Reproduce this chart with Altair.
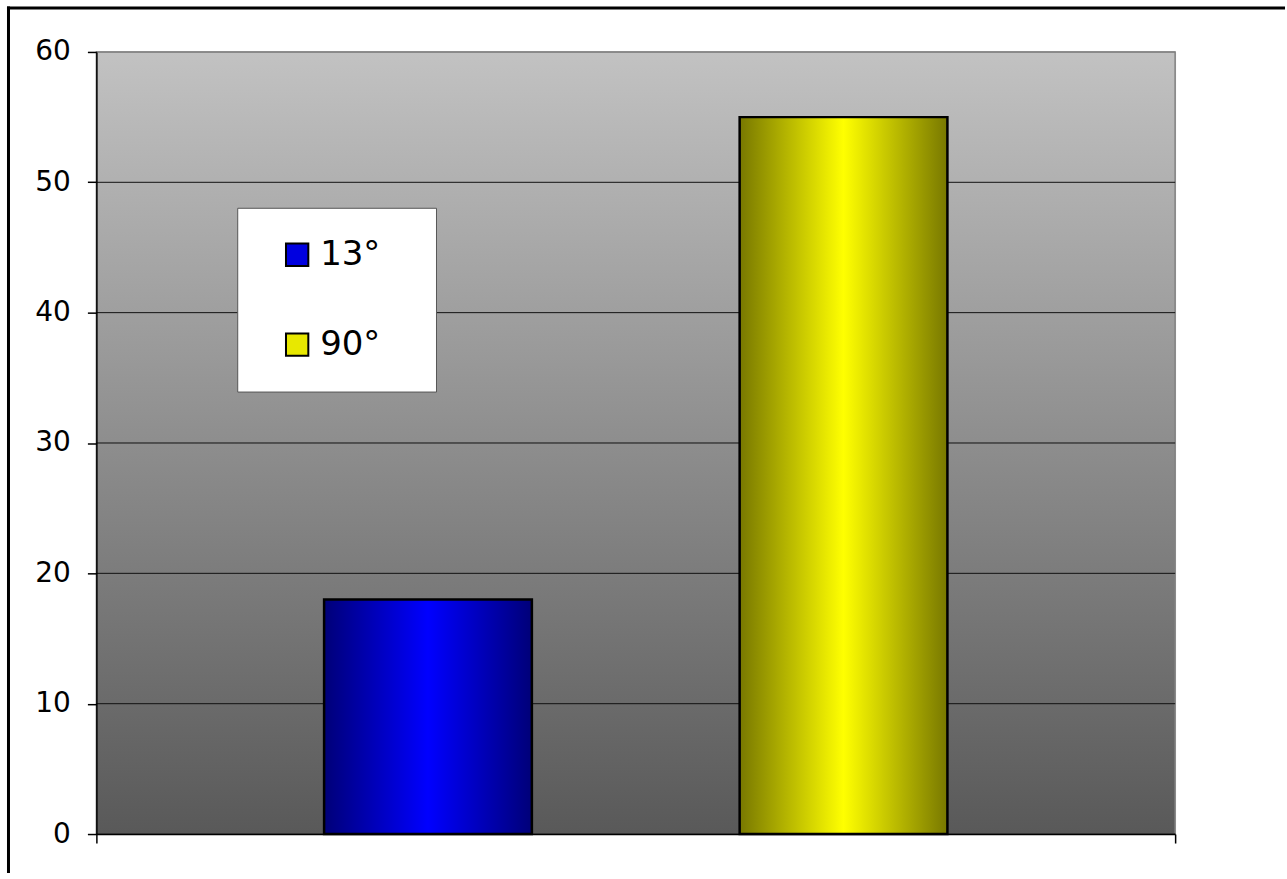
import altair as alt
import pandas as pd

# ---- data ----
category = ["Série"]
series = ["13°", "90°"]
values = [18, 55]
y_ticks = [0, 10, 20, 30, 40, 50, 60]

df = pd.DataFrame({"cat": [category[0]] * len(series), "series": series, "value": values})
grid_df = pd.DataFrame({"tick": y_ticks})
one = pd.DataFrame({"k": [0]})


def hgrad(edge, mid):
    return {
        "gradient": "linear", "x1": 0, "y1": 0, "x2": 1, "y2": 0,
        "stops": [
            {"offset": 0, "color": edge},
            {"offset": 0.5, "color": mid},
            {"offset": 1, "color": edge},
        ],
    }


blue_g = hgrad("#000078", "#0000ff")
yellow_g = hgrad("#787800", "#ffff00")

view_grad = {
    "gradient": "linear", "x1": 0, "y1": 0, "x2": 0, "y2": 1,
    "stops": [{"offset": 0, "color": "#c2c2c2"}, {"offset": 1, "color": "#595959"}],
}

yscale = alt.Scale(domain=[0, 60], nice=False)
yaxis = alt.Axis(values=y_ticks, labelFontSize=28, labelFont="DejaVu Sans",
                 labelColor="black", tickSize=9, tickColor="black", tickWidth=1.5,
                 labelPadding=17, domainColor="black", domainWidth=1.5,
                 grid=False, zindex=1, title=None)
xaxis = alt.Axis(labels=False, tickBand="extent", tickSize=9, tickColor="black",
                 tickWidth=1.5, domainColor="black", domainWidth=1.5, grid=False,
                 zindex=1, title=None)
xenc = alt.X("cat:N", scale=alt.Scale(paddingInner=0, paddingOuter=0), axis=xaxis)
xoff = alt.XOffset("series:N", scale=alt.Scale(paddingInner=0.5, paddingOuter=0.548))

background = alt.Chart(one).mark_rect(fill=view_grad, stroke="#808080", strokeWidth=1.5).encode(
    x=alt.value(0), x2=alt.value("width"),
    y=alt.datum(60, scale=yscale, axis=yaxis), y2=alt.datum(0),
)

grid = alt.Chart(grid_df).mark_rule(strokeWidth=1).encode(
    x=alt.value(0), x2=alt.value("width"),
    y=alt.Y("tick:Q", scale=yscale, axis=yaxis),
    color=alt.condition(alt.datum.tick == 60, alt.value("#808080"), alt.value("#111111")),
)

bars = alt.Chart(df).mark_bar(stroke="black", strokeWidth=2.5, opacity=1).encode(
    x=xenc, xOffset=xoff,
    y=alt.Y("value:Q", scale=yscale, axis=yaxis),
    fill=alt.condition(alt.datum.series == "13°", alt.value(blue_g), alt.value(yellow_g)),
)

legend = alt.Legend(
    orient="none", legendX=141, legendY=156, title=None,
    fillColor="white", strokeColor="#555555", padding=30,
    symbolType="square", symbolSize=500, symbolStrokeColor="black", symbolStrokeWidth=2,
    symbolOffset=13, labelOffset=6, symbolOpacity=1,
    labelFontSize=34, labelFont="DejaVu Sans", labelColor="black",
    rowPadding=56, labelExpr="datum.label + '\u2800'",
)

legend_layer = alt.Chart(df).mark_point(opacity=0, filled=True, shape="square").encode(
    x=xenc, xOffset=xoff,
    y=alt.Y("value:Q", scale=yscale, axis=yaxis),
    color=alt.Color("series:N", scale=alt.Scale(domain=series, range=["#0000e0", "#e8e800"]),
                    legend=legend),
)

left_line = alt.Chart(one).mark_rule(color="black", strokeWidth=3).encode(
    x=alt.value(-88), y=alt.value(-45.5), y2=alt.value(822))
top_line = alt.Chart(one).mark_rule(color="black", strokeWidth=3).encode(
    x=alt.value(-89.5), x2=alt.value(1190), y=alt.value(-44))

chart = alt.layer(background, grid, bars, legend_layer, left_line, top_line).properties(
    width=1080, height=783,
    padding={"left": 5.5, "top": 4.5, "right": 0, "bottom": 0},
    background="white",
).configure_view(
    stroke=None,
).configure(font="DejaVu Sans")

chart.save("out.html", embed_options={"renderer": "svg", "actions": False})
